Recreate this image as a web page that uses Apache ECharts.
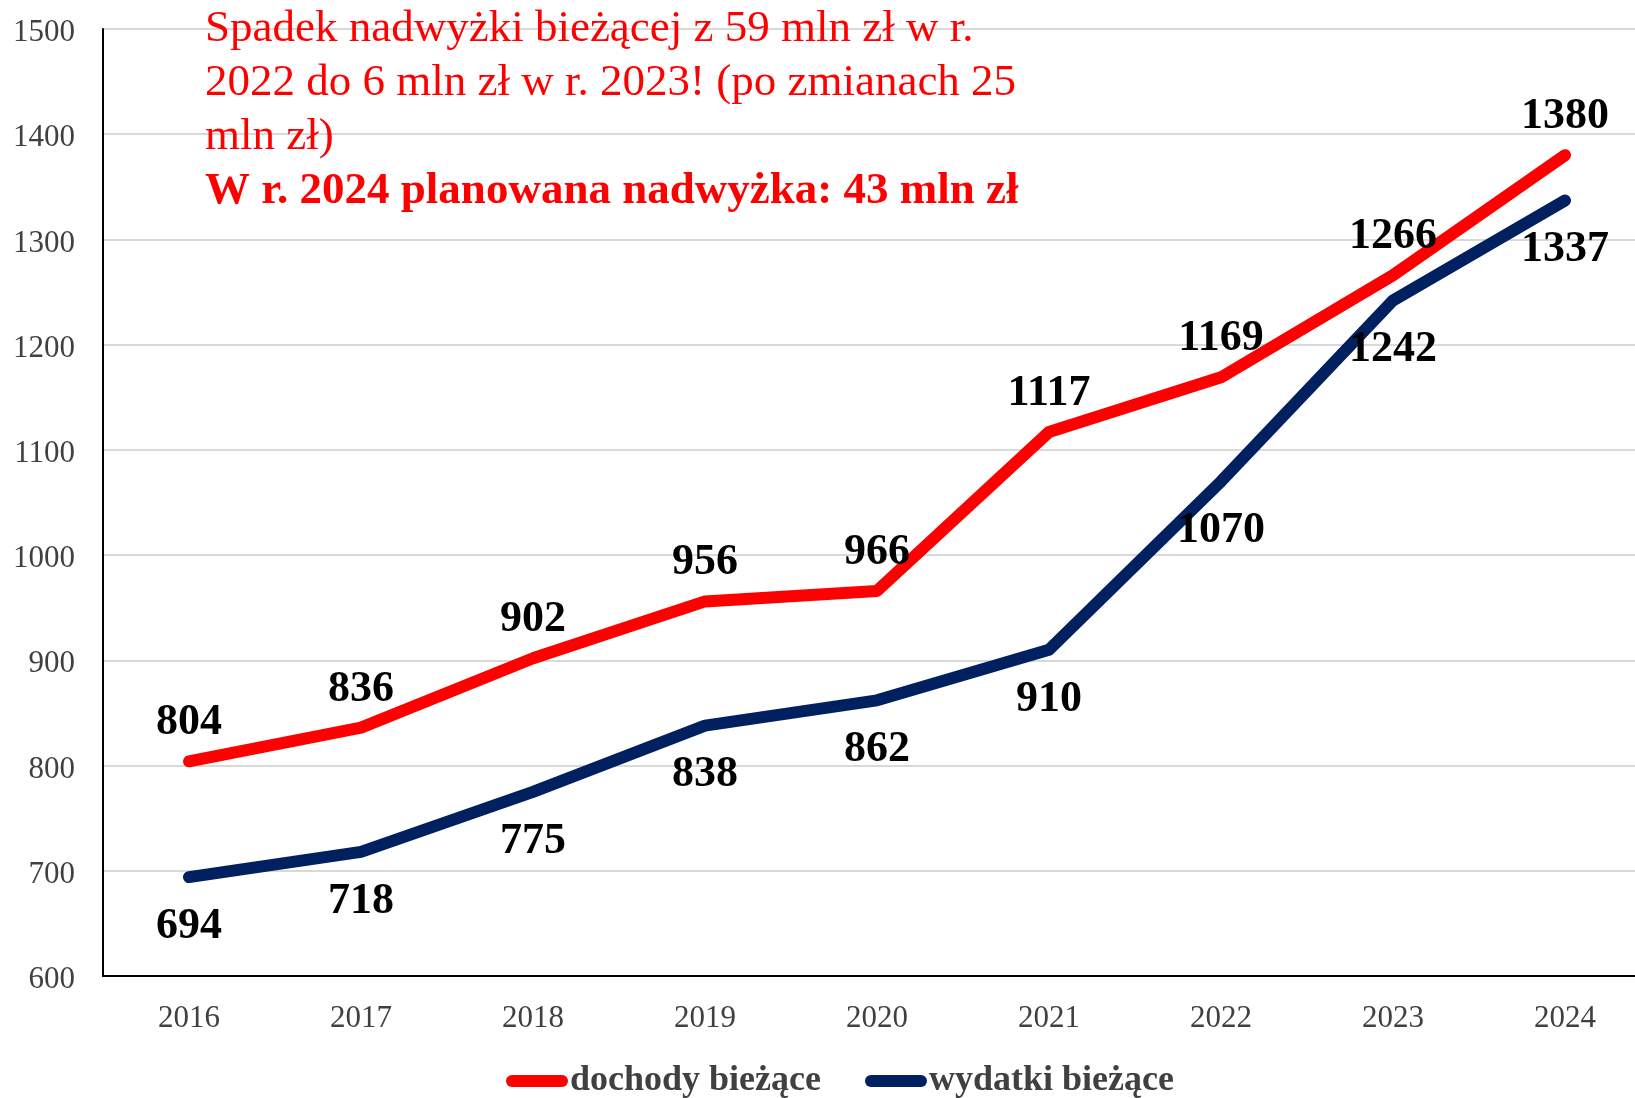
<!DOCTYPE html>
<html>
<head>
<meta charset="utf-8">
<script src="https://cdn.jsdelivr.net/npm/echarts@6/dist/echarts.min.js"></script>
<style>
  html, body { margin: 0; padding: 0; background: #fff; overflow: hidden; }
  #chart { width: 1651px; height: 1098px; }
</style>
</head>
<body>
<div id="chart"></div>
<script>
const categories = ['2016', '2017', '2018', '2019', '2020', '2021', '2022', '2023', '2024'];
const dochody = [804, 836, 902, 956, 966, 1117, 1169, 1266, 1380];
const wydatki = [694, 718, 775, 838, 862, 910, 1070, 1242, 1337];
const seriesNames = ['dochody bieżące', 'wydatki bieżące'];
const noteLines = [
  'Spadek nadwyżki bieżącej z 59 mln zł w r.',
  '2022 do 6 mln zł w r. 2023! (po zmianach 25',
  'mln zł)'
];
const noteBold = 'W r. 2024 planowana nadwyżka: 43 mln zł';

const FONT = "'Liberation Serif', 'Times New Roman', serif";
const chart = echarts.init(document.getElementById('chart'), null, { renderer: 'canvas' });

const capsule = 'path://M6,0 L56,0 A6,6 0 0 1 56,12 L6,12 A6,6 0 0 1 6,0 Z';

chart.setOption({
  animation: false,
  backgroundColor: '#ffffff',
  title: {
    text: noteLines.map(l => '{a|' + l + '}').join('\n') + '\n{b|' + noteBold + '}',
    left: 205,
    top: 2,
    padding: 0,
    textStyle: {
      fontWeight: 'normal',
      rich: {
        a: { fontFamily: FONT, fontSize: 45, fontWeight: 'normal', color: '#ff0000', lineHeight: 54 },
        b: { fontFamily: FONT, fontSize: 45, fontWeight: 'bold', color: '#ff0000', lineHeight: 54 }
      }
    }
  },
  legend: {
    data: [
      { name: seriesNames[0], icon: capsule },
      { name: seriesNames[1], icon: capsule }
    ],
    left: 506,
    top: 1063,
    itemWidth: 62,
    itemHeight: 12,
    itemGap: 44,
    padding: 0,
    textStyle: {
      fontFamily: FONT, fontSize: 36, fontWeight: 'bold', color: '#404040',
      padding: [0, 0, 0, -3]
    }
  },
  grid: { left: 103, top: 29, right: 0, bottom: 122, containLabel: false },
  xAxis: {
    type: 'category',
    data: categories,
    boundaryGap: true,
    axisLine: { lineStyle: { color: '#000000', width: 2 } },
    axisTick: { show: false },
    axisLabel: { fontFamily: FONT, fontSize: 31, color: '#404040', margin: 27 }
  },
  yAxis: {
    type: 'value',
    min: 600,
    max: 1500,
    interval: 100,
    axisLine: { show: true, lineStyle: { color: '#000000', width: 2 } },
    axisTick: { show: false },
    axisLabel: {
      margin: 28,
      formatter: v => '{v|' + v + '}',
      rich: { v: { fontFamily: FONT, fontSize: 31, color: '#404040', padding: [8, 0, 0, 0] } }
    },
    splitLine: { lineStyle: { color: '#d9d9d9', width: 2 } }
  },
  series: [
    {
      name: seriesNames[0],
      type: 'line',
      data: dochody,
      symbol: 'circle',
      symbolSize: 1,
      showSymbol: true,
      itemStyle: { color: '#ff0000' },
      color: '#ff0000',
      lineStyle: { width: 12, color: '#ff0000', cap: 'round', join: 'round' },
      label: {
        show: true, position: 'top', distance: 16,
        fontFamily: FONT, fontSize: 44, fontWeight: 'bold', color: '#000000'
      },
      z: 3
    },
    {
      name: seriesNames[1],
      type: 'line',
      data: wydatki,
      symbol: 'circle',
      symbolSize: 1,
      showSymbol: true,
      itemStyle: { color: '#002060' },
      color: '#002060',
      lineStyle: { width: 12, color: '#002060', cap: 'round', join: 'round' },
      label: {
        show: true, position: 'bottom', distance: 27,
        fontFamily: FONT, fontSize: 44, fontWeight: 'bold', color: '#000000'
      },
      z: 2
    }
  ]
});
</script>
</body>
</html>
